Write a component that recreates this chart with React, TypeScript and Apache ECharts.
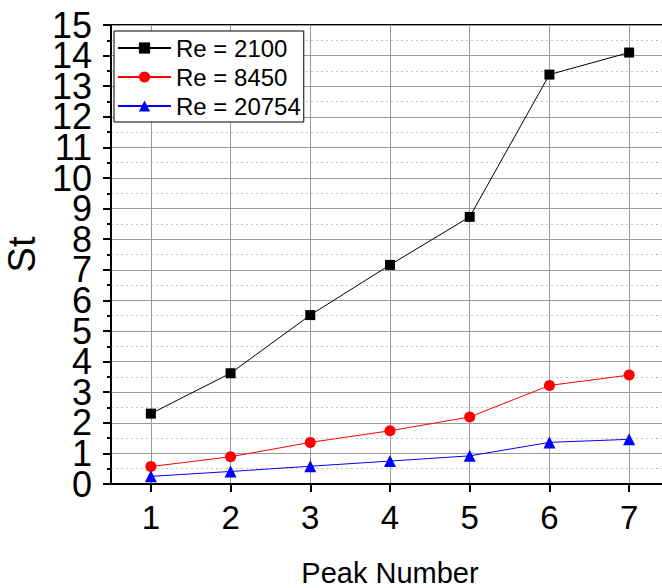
import React, { useEffect, useRef } from "react";
import * as echarts from "echarts";

const peaks = [1, 2, 3, 4, 5, 6, 7];
const re2100 = [2.3, 3.62, 5.52, 7.16, 8.73, 13.38, 14.1];
const re8450 = [0.57, 0.89, 1.36, 1.74, 2.19, 3.22, 3.56];
const re20754 = [0.25, 0.41, 0.58, 0.75, 0.92, 1.36, 1.46];
const seriesNames = ["Re = 2100", "Re = 8450", "Re = 20754"];
const xTicks = [1, 2, 3, 4, 5, 6, 7];
const yTicksEven = [0, 2, 4, 6, 8, 10, 12, 14];
const yTicksOdd = [1, 3, 5, 7, 9, 11, 13, 15];

const FONT = "'Liberation Sans', Arial, sans-serif";

export default function App() {
  const ref = useRef<HTMLDivElement>(null);
  useEffect(() => {
    if (!ref.current) return;
    const chart = echarts.init(ref.current, null, { renderer: "svg" });
    const mk = (vals: number[]) => peaks.map((p, i) => [p, vals[i]]);
    const yLabel = (vals: number[]) => ({
      customValues: vals,
      fontSize: 36,
      color: "#000",
      margin: 19,
      fontFamily: FONT,
      showMinLabel: true,
      showMaxLabel: true,
    });
    chart.setOption({
      animation: false,
      backgroundColor: "#fff",
      textStyle: { fontFamily: FONT },
      grid: {
        left: 111,
        right: 11,
        top: 25,
        bottom: 104,
        show: true,
        borderColor: "#000",
        borderWidth: 2,
        backgroundColor: "transparent",
        containLabel: false,
        outerBoundsMode: "none",
      },
      legend: {
        orient: "vertical",
        left: 114,
        top: 31,
        padding: [5, 3, 4, 3],
        itemGap: 5,
        itemWidth: 53,
        itemHeight: 14,
        backgroundColor: "#fff",
        borderColor: "#000",
        borderWidth: 1,
        borderRadius: 0,
        textStyle: { fontSize: 24, color: "#000", fontFamily: FONT },
        data: seriesNames,
      },
      xAxis: {
        type: "value",
        min: 0.5,
        max: 7.5,
        name: "Peak Number",
        nameLocation: "middle",
        nameGap: 74,
        nameTextStyle: { fontSize: 29, color: "#000", fontFamily: FONT },
        axisLine: { show: true, onZero: false, lineStyle: { color: "#000", width: 2 } },
        axisTick: {
          show: true,
          length: 8,
          customValues: xTicks,
          lineStyle: { color: "#000", width: 2 },
        },
        axisLabel: {
          customValues: xTicks,
          fontSize: 33,
          color: "#000",
          margin: 17,
          fontFamily: FONT,
        },
        splitLine: { show: true, lineStyle: { color: "#999", width: 1 } },
      },
      yAxis: [
        {
          type: "value",
          position: "left",
          min: 0,
          max: 15,
          interval: 1,
          name: "St",
          nameLocation: "middle",
          nameGap: 62,
          nameTextStyle: { fontSize: 38, color: "#000", fontFamily: FONT },
          axisLine: { show: true, onZero: false, lineStyle: { color: "#000", width: 2 } },
          axisTick: { show: true, length: 8, lineStyle: { color: "#000", width: 2 } },
          minorTick: { show: true, splitNumber: 2, length: 4, lineStyle: { color: "#000", width: 2 } },
          axisLabel: yLabel(yTicksEven),
          splitLine: { show: true, lineStyle: { color: "#999", width: 1 } },
          minorSplitLine: { show: true, lineStyle: { color: "#c4c4c4", width: 1, type: [2, 3] } },
        },
        {
          type: "value",
          position: "left",
          offset: 0,
          min: 0,
          max: 15,
          interval: 1,
          axisLine: { show: false, onZero: false },
          axisTick: { show: false },
          minorTick: { show: false },
          splitLine: { show: false },
          minorSplitLine: { show: false },
          axisLabel: yLabel(yTicksOdd),
        },
      ],
      series: [
        {
          name: seriesNames[0],
          type: "line",
          data: mk(re2100),
          symbol: "rect",
          symbolSize: 10,
          itemStyle: { color: "#000" },
          lineStyle: { color: "#000", width: 1 },
        },
        {
          name: seriesNames[1],
          type: "line",
          data: mk(re8450),
          symbol: "circle",
          symbolSize: 11,
          itemStyle: { color: "#ff0000" },
          lineStyle: { color: "#ff0000", width: 1 },
        },
        {
          name: seriesNames[2],
          type: "line",
          data: mk(re20754),
          symbol: "triangle",
          symbolSize: 12,
          itemStyle: { color: "#0000ff" },
          lineStyle: { color: "#0000ff", width: 1 },
        },
      ],
    });
    return () => chart.dispose();
  }, []);
  return (
    <div style={{ position: "absolute", left: 0, top: 0, width: 662, height: 588, overflow: "hidden", background: "#fff" }}>
      <div ref={ref} style={{ width: 680, height: 588 }} />
    </div>
  );
}
